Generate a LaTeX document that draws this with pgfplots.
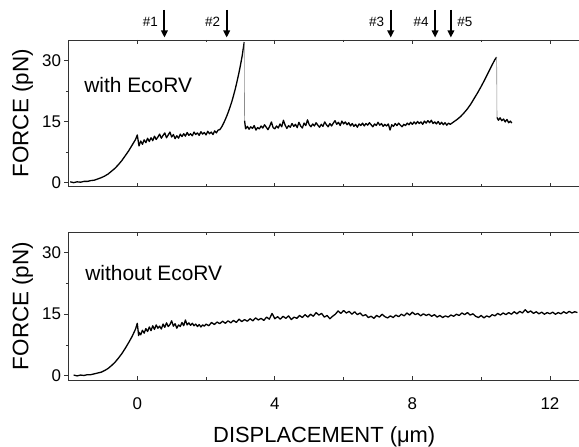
\documentclass[border=0pt]{standalone}
\usepackage{pgfplots}
\pgfplotsset{compat=1.18}
\usepackage{fontspec}
\setmainfont{Liberation Sans}
\usetikzlibrary{arrows.meta}
\pgfplotsset{panel/.style={
  scale only axis, width=511.5bp,
  xmin=-2, xmax=12.874, ymin=-1, ymax=35,
  xtick={0,4,8,12}, ytick={0,15,30},
  minor x tick num=1, minor y tick num=1,
  ytick pos=left, xtick pos=both,
  xtick align=inside, ytick align=outside,
  major tick length=4bp, minor tick length=2.5bp,
  axis line style={line width=0.9bp, black!80},
  every tick/.style={black!80, line width=0.8bp},
  tick label style={font=\fontsize{17}{17}\selectfont},
  xticklabel style={yshift=-14bp},
  /pgf/number format/assume math mode=true,
  every axis y label/.style={at={(axis description cs:-0.090,0.5)}, rotate=90, anchor=center, font=\fontsize{22.5}{22.5}\selectfont},
  every axis x label/.style={at={(axis description cs:0.5,-0.385)}, anchor=center, font=\fontsize{22}{22}\selectfont},
  clip=false,
}}
\tikzset{evarrow/.style={line width=2bp, -{Triangle[length=7bp,width=6.5bp]}},
  trace/.style={black, line width=1.3bp, line join=round}}
\begin{document}
\begin{tikzpicture}
\useasboundingbox (0,0) rectangle (579bp,447bp);
% ---------- top panel ----------
\begin{axis}[panel, at={(68.5bp,260.3bp)}, anchor=south west, height=146.7bp,
  xticklabels={}, ylabel={FORCE (pN)}]
\addplot[trace] table {
-1.95 0.2
-1.85 0.0
-1.75 0.2
-1.65 0.1
-1.55 0.3
-1.45 0.3
-1.35 0.5
-1.25 0.6
-1.15 0.9
-1.05 1.2
-0.95 1.6
-0.85 2.1
-0.75 2.8
-0.65 3.5
-0.55 4.4
-0.45 5.4
-0.35 6.6
-0.25 7.8
-0.15 9.2
-0.05 10.6
0.00 11.7
0.05 9.0
0.10 10.2
0.15 9.4
0.20 10.5
0.25 9.8
0.30 10.9
0.35 10.1
0.40 11.0
0.45 10.3
0.50 11.4
0.55 10.6
0.60 11.2
0.65 11.9
0.70 10.9
0.75 11.6
0.80 12.2
0.85 11.0
0.90 11.7
0.95 12.4
1.00 11.2
1.05 11.8
1.10 10.8
1.15 11.5
1.20 10.9
1.25 11.9
1.30 11.3
1.35 12.0
1.40 11.4
1.45 12.3
1.50 11.6
1.55 12.0
1.60 11.5
1.65 12.4
1.70 11.8
1.75 12.2
1.80 11.6
1.85 12.5
1.90 11.9
1.95 12.3
2.00 11.7
2.05 12.6
2.10 12.0
2.15 12.4
2.20 11.8
2.25 12.7
2.30 12.2
2.35 12.9
2.40 13.0
2.45 13.6
2.50 14.4
2.55 15.3
2.60 16.3
2.65 17.4
2.70 18.6
2.75 19.9
2.80 21.4
2.85 23.0
2.90 24.8
2.95 26.7
3.00 28.8
3.05 31.1
3.11 34.5
};
\addplot[black!45, line width=0.6bp] table {
3.11 34.5
3.12 15.2
};
\addplot[trace] table {
3.12 15.2
3.15 13.2
3.20 13.8
3.25 13.1
3.30 13.7
3.35 13.3
3.40 14.0
3.45 12.9
3.50 13.5
3.55 13.2
3.60 13.9
3.65 13.4
3.70 14.2
3.75 13.6
3.80 13.0
3.85 13.8
3.90 14.9
3.95 13.5
4.00 13.2
4.05 13.9
4.10 13.4
4.15 14.4
4.20 13.7
4.25 15.3
4.30 14.1
4.35 13.3
4.40 14.0
4.45 13.6
4.50 14.5
4.55 13.8
4.60 14.3
4.65 13.5
4.70 14.8
4.75 13.9
4.80 13.4
4.85 14.6
4.90 14.0
4.95 15.4
5.00 14.2
5.05 13.7
5.10 14.4
5.15 13.9
5.20 14.7
5.25 14.1
5.30 13.6
5.35 14.3
5.40 13.8
5.45 14.9
5.50 14.2
5.55 13.7
5.60 14.5
5.65 13.9
5.70 14.6
5.75 15.2
5.80 14.3
5.85 14.8
5.90 14.0
5.95 15.1
6.00 14.4
6.05 14.9
6.10 14.2
6.15 14.7
6.20 13.9
6.25 14.5
6.30 13.8
6.35 14.3
6.40 13.6
6.45 14.4
6.50 14.0
6.55 14.6
6.60 13.9
6.65 14.5
6.70 14.1
6.75 14.7
6.80 14.2
6.85 13.7
6.90 14.4
6.95 14.0
7.00 14.8
7.05 14.1
7.10 14.5
7.15 13.8
7.20 14.3
7.25 13.9
7.30 14.4
7.35 12.9
7.40 14.2
7.45 13.8
7.50 14.5
7.55 14.0
7.60 14.6
7.65 14.1
7.70 13.7
7.75 14.3
7.80 14.0
7.85 14.6
7.90 14.2
7.95 14.8
8.00 14.3
8.05 14.9
8.10 14.4
8.15 15.0
8.20 14.5
8.25 14.9
8.30 14.3
8.35 15.1
8.40 14.6
8.45 15.2
8.50 14.7
8.55 15.3
8.60 14.5
8.65 14.9
8.70 14.4
8.75 15.0
8.80 14.3
8.85 14.8
8.90 14.2
8.95 14.7
9.00 14.1
9.05 14.6
9.10 14.3
9.15 14.6
9.20 14.9
9.30 15.5
9.40 16.2
9.50 17.1
9.60 18.1
9.70 19.3
9.80 20.7
9.90 22.1
10.00 23.6
10.10 25.2
10.20 26.9
10.30 28.6
10.40 30.2
10.45 30.8
};
\addplot[black!45, line width=0.6bp] table {
10.45 30.8
10.46 16.0
};
\addplot[trace] table {
10.46 16.0
10.50 15.3
10.55 15.9
10.60 15.2
10.65 15.6
10.70 14.9
10.75 15.5
10.80 14.7
10.85 15.1
10.89 14.6
};
\node[anchor=west, font=\fontsize{21}{21}\selectfont] at (axis description cs:0.024,0.693) {with EcoRV};
% arrows
\draw[evarrow] ([yshift=30bp]axis cs:0.79,35) -- ([yshift=2.5bp]axis cs:0.79,35);
\draw[evarrow] ([yshift=30bp]axis cs:2.60,35) -- ([yshift=2.5bp]axis cs:2.60,35);
\draw[evarrow] ([yshift=30bp]axis cs:7.37,35) -- ([yshift=2.5bp]axis cs:7.37,35);
\draw[evarrow] ([yshift=30bp]axis cs:8.66,35) -- ([yshift=2.5bp]axis cs:8.66,35);
\draw[evarrow] ([yshift=30bp]axis cs:9.12,35) -- ([yshift=2.5bp]axis cs:9.12,35);
\node[anchor=east, font=\fontsize{13.5}{13.5}\selectfont, xshift=-3bp, yshift=18bp] at (axis cs:0.79,35) {\#1};
\node[anchor=east, font=\fontsize{13.5}{13.5}\selectfont, xshift=-3bp, yshift=18bp] at (axis cs:2.60,35) {\#2};
\node[anchor=east, font=\fontsize{13.5}{13.5}\selectfont, xshift=-3bp, yshift=18bp] at (axis cs:7.37,35) {\#3};
\node[anchor=east, font=\fontsize{13.5}{13.5}\selectfont, xshift=-3bp, yshift=18bp] at (axis cs:8.66,35) {\#4};
\node[anchor=west, font=\fontsize{13.5}{13.5}\selectfont, xshift=3bp, yshift=18bp] at (axis cs:9.12,35) {\#5};
\end{axis}
% ---------- bottom panel ----------
\begin{axis}[panel, at={(68.5bp,67bp)}, anchor=south west, height=148bp,
  ylabel={FORCE (pN)}, xlabel={DISPLACEMENT (μm)}]
\addplot[trace] table {
-1.85 0.2
-1.75 0.0
-1.65 0.2
-1.55 0.1
-1.45 0.3
-1.35 0.3
-1.25 0.5
-1.15 0.7
-1.05 0.9
-0.95 1.3
-0.85 1.8
-0.75 2.5
-0.65 3.3
-0.55 4.3
-0.45 5.4
-0.35 6.7
-0.25 8.1
-0.15 9.6
-0.05 11.4
0.00 12.8
0.04 9.8
0.05 10.6
0.10 10.0
0.15 11.1
0.20 10.4
0.25 11.5
0.30 10.8
0.35 11.9
0.40 11.0
0.45 12.2
0.50 11.3
0.55 12.4
0.60 11.6
0.65 12.1
0.70 11.4
0.75 12.6
0.80 11.8
0.85 12.9
0.90 12.0
0.95 12.5
1.00 13.4
1.05 12.1
1.10 12.7
1.15 11.6
1.20 12.4
1.25 12.0
1.30 13.0
1.35 12.2
1.40 13.6
1.45 12.4
1.50 12.9
1.55 12.3
1.60 12.8
1.65 12.2
1.70 12.6
1.75 12.0
1.80 12.5
1.85 11.9
1.90 12.4
1.95 12.1
2.00 12.6
2.08 12.2
2.16 13.0
2.24 12.5
2.32 13.1
2.40 12.7
2.48 13.3
2.56 12.8
2.64 13.4
2.72 12.9
2.80 13.5
2.88 13.0
2.96 13.8
3.04 13.2
3.12 13.7
3.20 13.3
3.28 13.9
3.36 13.4
3.44 14.1
3.52 13.6
3.60 14.0
3.68 13.5
3.76 14.3
3.84 13.8
3.92 15.2
4.00 13.9
4.08 14.4
4.16 13.8
4.24 14.5
4.32 14.0
4.40 14.6
4.48 13.7
4.56 14.3
4.64 14.0
4.72 14.7
4.80 14.2
4.88 14.9
4.96 14.3
5.04 15.0
5.12 14.5
5.20 15.4
5.28 14.8
5.36 15.2
5.44 14.3
5.52 14.7
5.60 13.9
5.68 14.5
5.76 15.0
5.84 15.8
5.92 15.2
6.00 15.9
6.08 15.3
6.16 15.7
6.24 15.0
6.32 15.6
6.40 14.9
6.48 15.3
6.56 14.6
6.64 14.9
6.72 14.2
6.80 14.5
6.88 14.0
6.96 14.7
7.04 14.3
7.12 15.0
7.20 14.4
7.28 14.1
7.36 14.6
7.44 14.2
7.52 14.8
7.60 14.4
7.68 15.0
7.76 14.6
7.84 15.3
7.92 14.8
8.00 15.5
8.08 14.9
8.16 15.2
8.24 14.6
8.32 15.1
8.40 14.7
8.48 15.0
8.56 14.5
8.64 14.9
8.72 14.3
8.80 14.7
8.88 14.2
8.96 14.6
9.04 14.3
9.12 14.8
9.20 14.5
9.28 15.0
9.36 14.7
9.44 15.3
9.52 14.9
9.60 15.4
9.68 14.8
9.76 15.1
9.84 14.5
9.92 14.2
10.00 14.7
10.08 14.1
10.16 14.6
10.24 14.3
10.32 14.9
10.40 14.6
10.48 15.2
10.56 14.8
10.64 15.3
10.72 14.9
10.80 15.4
10.88 15.0
10.96 15.6
11.04 15.1
11.12 15.7
11.20 15.3
11.28 16.1
11.36 15.4
11.44 15.8
11.52 15.2
11.60 15.6
11.68 15.1
11.76 15.5
11.84 15.0
11.92 15.4
12.00 15.1
12.08 15.5
12.16 15.0
12.24 15.4
12.32 15.1
12.40 15.6
12.48 15.2
12.56 15.7
12.64 15.3
12.72 15.6
12.80 15.4
};
\node[anchor=west, font=\fontsize{21}{21}\selectfont] at (axis description cs:0.026,0.723) {without EcoRV};
\end{axis}
\end{tikzpicture}
\end{document}
